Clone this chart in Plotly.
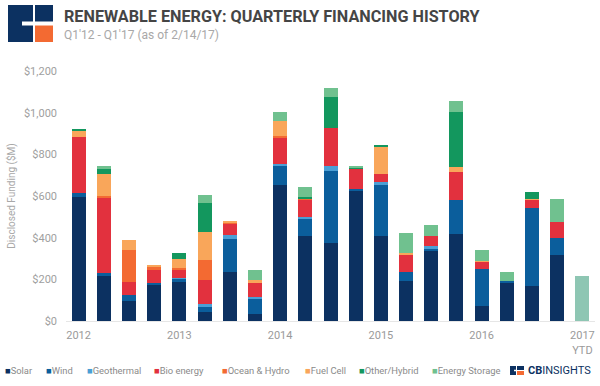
import plotly.graph_objects as go

quarters = ["Q1'12", "Q2'12", "Q3'12", "Q4'12", "Q1'13", "Q2'13", "Q3'13", "Q4'13",
            "Q1'14", "Q2'14", "Q3'14", "Q4'14", "Q1'15", "Q2'15", "Q3'15", "Q4'15",
            "Q1'16", "Q2'16", "Q3'16", "Q4'16", "Q1'17"]

solar      = [595, 215, 95, 173, 186, 42, 234, 36, 654, 406, 373, 625, 406, 194, 334, 418, 74, 183, 167, 318, 0]
wind       = [18, 15, 32, 10, 18, 26, 160, 70, 91, 88, 348, 8, 248, 43, 16, 164, 177, 8, 375, 80, 0]
geothermal = [0, 0, 0, 0, 3, 16, 17, 8, 8, 3, 24, 0, 11, 0, 8, 0, 0, 0, 0, 0, 0]
bio_energy = [270, 365, 59, 60, 40, 115, 59, 69, 124, 85, 183, 97, 41, 81, 51, 131, 35, 0, 43, 77, 0]
ocean      = [0, 5, 153, 15, 8, 92, 3, 0, 11, 5, 0, 0, 0, 0, 0, 0, 0, 0, 0, 0, 0]
fuel_cell  = [33, 105, 51, 10, 44, 138, 4, 16, 72, 0, 0, 3, 131, 8, 0, 25, 4, 0, 3, 0, 0]
other      = [8, 25, 0, 0, 28, 137, 0, 0, 0, 10, 149, 3, 5, 0, 0, 267, 0, 0, 29, 0, 0]
storage    = [0, 12, 0, 0, 0, 37, 0, 48, 42, 45, 40, 5, 0, 96, 50, 51, 49, 46, 0, 113, 0]
ytd_total  = [0] * 20 + [218]

tick_quarters = ["Q1'12", "Q1'13", "Q1'14", "Q1'15", "Q1'16", "Q1'17"]
tick_labels = ["2012", "2013", "2014", "2015", "2016", "2017<br>YTD"]
y_ticks = [0, 200, 400, 600, 800, 1000, 1200]
y_tick_labels = ["$0", "$200", "$400", "$600", "$800", "$1,000", "$1,200"]

series = [
    ("Solar", solar, "#0c3161"),
    ("Wind", wind, "#0b5e9c"),
    ("Geothermal", geothermal, "#4a9fd5"),
    ("Bio energy", bio_energy, "#e2313e"),
    ("Ocean & Hydro", ocean, "#f36a32"),
    ("Fuel Cell", fuel_cell, "#f9a65a"),
    ("Other/Hybrid", other, "#13975e"),
    ("Energy Storage", storage, "#70c18f"),
]

W_PX, H_PX = 600, 386
L, R, T, B = 66, 5, 71, 65
PW = W_PX - L - R
PH = H_PX - T - B


def px_x(px):
    return (px - L) / PW


def px_y(py):
    return (H_PX - B - py) / PH


fig = go.Figure()
for name, vals, color in series:
    fig.add_trace(go.Bar(x=quarters, y=vals, name=name, marker=dict(color=color, line=dict(width=0)),
                         showlegend=False))
fig.add_trace(go.Bar(x=quarters, y=ytd_total, name="Q1'17 YTD", marker=dict(color="#8ec6b3", line=dict(width=0)),
                     showlegend=False))

annotations = []
annotations.append(dict(x=px_x(62), y=px_y(16), xref="paper", yref="paper", xanchor="left", yanchor="middle",
                        text="<b>RENEWABLE ENERGY: QUARTERLY FINANCING HISTORY</b>", showarrow=False,
                        font=dict(family="Roboto", size=16.2, color="#454545")))
annotations.append(dict(x=px_x(62), y=px_y(35), xref="paper", yref="paper", xanchor="left", yanchor="middle",
                        text="Q1'12 - Q1'17 (as of 2/14/17)", showarrow=False,
                        font=dict(family="Roboto", size=12, color="#a8a8a8")))

legend_pos = [3, 44, 85, 152, 220, 303, 357, 430]
for (name, vals, color), xp in zip(series, legend_pos):
    annotations.append(dict(x=px_x(xp), y=px_y(370), xref="paper", yref="paper", xanchor="left", yanchor="middle",
                            text=f"<span style='color:{color}'>■</span>{name}", showarrow=False,
                            font=dict(family="Roboto", size=9.4, color="#8a8a8a")))
annotations.append(dict(x=px_x(526), y=px_y(370), xref="paper", yref="paper", xanchor="left", yanchor="middle",
                        text="<b>CB</b>INSIGHTS", showarrow=False,
                        font=dict(family="Roboto", size=11, color="#0c3161")))

shapes = []


def rect(x0, y0, x1, y1, color):
    shapes.append(dict(type="rect", xref="paper", yref="paper", x0=px_x(x0), x1=px_x(x1),
                       y0=px_y(y1), y1=px_y(y0), fillcolor=color, line=dict(width=0), layer="above"))


rect(8, 5, 33, 42, "#0c3161")
rect(22, 21.5, 33, 25.5, "white")
rect(35, 5, 53, 21.5, "#0c3161")
rect(35, 25.5, 53, 42, "#f36a32")
rect(510, 366, 516, 375, "#0c3161")
rect(514, 369.8, 516, 371.2, "white")
rect(517, 366, 524, 370, "#0c3161")
rect(517, 371, 524, 375, "#f36a32")

fig.update_layout(
    width=W_PX, height=H_PX,
    margin=dict(l=L, r=R, t=T, b=B, autoexpand=False),
    barmode="stack", bargap=0.444,
    plot_bgcolor="white", paper_bgcolor="white",
    font=dict(family="Roboto", color="#9a9a9a"),
    annotations=annotations, shapes=shapes,
    xaxis=dict(categoryorder="array", categoryarray=quarters, tickvals=tick_quarters, ticktext=tick_labels,
               showline=True, linecolor="#e6e6e6", linewidth=1, ticks="", showgrid=False,
               ticklabelstandoff=4, tickfont=dict(size=11, color="#9a9a9a"), automargin=False),
    yaxis=dict(range=[0, 1200], tickvals=y_ticks, ticktext=y_tick_labels,
               showgrid=False, zeroline=False, ticks="", ticklabelstandoff=8,
               tickfont=dict(size=11, color="#a0a0a0"), automargin=False,
               title=dict(text="Disclosed Funding ($M)", font=dict(size=10, color="#a8a8a8"), standoff=6)),
)

fig.write_html("out.html", config={"displayModeBar": False},
               post_script="document.body.style.margin='0';document.body.style.overflow='hidden';")
